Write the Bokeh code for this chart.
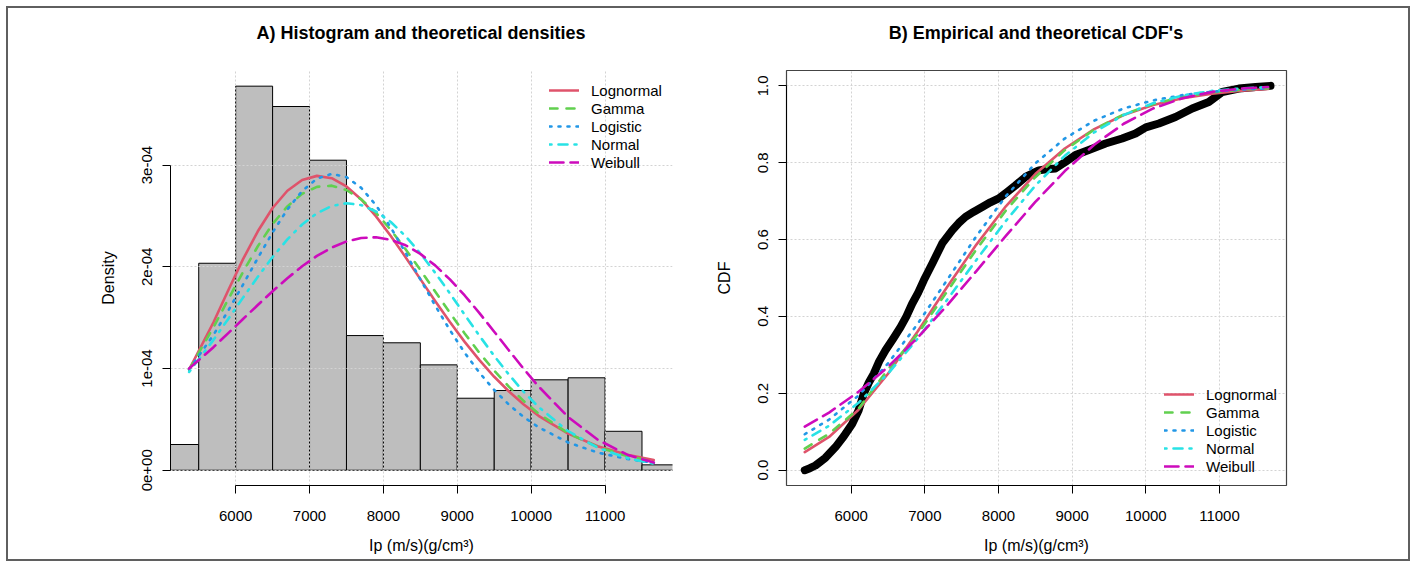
from bokeh.plotting import figure
from bokeh.layouts import row, column
from bokeh.models import Range1d, FixedTicker, Legend, LegendItem, PrintfTickFormatter, Div
from bokeh.embed import file_html
from bokeh.resources import INLINE

FONT = "Liberation Sans"

# ---------------- data ----------------
bin_left = [5000, 5500, 6000, 6500, 7000, 7500, 8000, 8500, 9000, 9500, 10000, 10500, 11000, 11500]
bin_right = [5500, 6000, 6500, 7000, 7500, 8000, 8500, 9000, 9500, 10000, 10500, 11000, 11500, 12000]
hist_density = [0.253e-4, 2.035e-4, 3.776e-4, 3.576e-4, 3.048e-4, 1.324e-4, 1.253e-4,
                1.036e-4, 0.708e-4, 0.784e-4, 0.889e-4, 0.909e-4, 0.383e-4, 0.053e-4]

dens_x = [5370, 5700, 5900, 6100, 6300, 6500, 6700, 6900, 7100, 7300, 7500, 7700, 7900, 8100,
          8300, 8500, 8700, 8900, 9100, 9300, 9500, 9700, 9900, 10100, 10500, 10900, 11300, 11660]

dens_lognormal = [0.99e-4, 1.455e-4, 1.770e-4, 2.075e-4, 2.349e-4, 2.578e-4, 2.748e-4, 2.854e-4,
                  2.894e-4, 2.871e-4, 2.790e-4, 2.662e-4, 2.496e-4, 2.303e-4, 2.095e-4, 1.879e-4,
                  1.664e-4, 1.457e-4, 1.262e-4, 1.082e-4, 0.919e-4, 0.774e-4, 0.646e-4, 0.535e-4,
                  0.360e-4, 0.236e-4, 0.152e-4, 0.100e-4]
dens_gamma = [0.99e-4, 1.406e-4, 1.681e-4, 1.950e-4, 2.202e-4, 2.422e-4, 2.594e-4, 2.718e-4,
              2.786e-4, 2.798e-4, 2.755e-4, 2.663e-4, 2.530e-4, 2.362e-4, 2.173e-4, 1.969e-4,
              1.757e-4, 1.548e-4, 1.345e-4, 1.154e-4, 0.979e-4, 0.820e-4, 0.680e-4, 0.557e-4,
              0.364e-4, 0.229e-4, 0.139e-4, 0.086e-4]
dens_logistic = [0.99e-4, 1.331e-4, 1.570e-4, 1.825e-4, 2.086e-4, 2.338e-4, 2.564e-4, 2.746e-4,
                 2.867e-4, 2.914e-4, 2.882e-4, 2.776e-4, 2.605e-4, 2.386e-4, 2.138e-4, 1.877e-4,
                 1.620e-4, 1.378e-4, 1.155e-4, 0.959e-4, 0.789e-4, 0.644e-4, 0.523e-4, 0.423e-4,
                 0.273e-4, 0.174e-4, 0.111e-4, 0.073e-4]
dens_normal = [0.966e-4, 1.282e-4, 1.488e-4, 1.697e-4, 1.902e-4, 2.096e-4, 2.270e-4, 2.416e-4,
               2.527e-4, 2.598e-4, 2.625e-4, 2.607e-4, 2.544e-4, 2.441e-4, 2.301e-4, 2.132e-4,
               1.942e-4, 1.739e-4, 1.529e-4, 1.322e-4, 1.124e-4, 0.939e-4, 0.770e-4, 0.622e-4,
               0.384e-4, 0.222e-4, 0.119e-4, 0.064e-4]
dens_weibull = [1.0e-4, 1.210e-4, 1.348e-4, 1.487e-4, 1.625e-4, 1.760e-4, 1.888e-4, 2.005e-4,
                2.107e-4, 2.189e-4, 2.250e-4, 2.284e-4, 2.290e-4, 2.266e-4, 2.212e-4, 2.127e-4,
                2.014e-4, 1.876e-4, 1.718e-4, 1.545e-4, 1.362e-4, 1.177e-4, 0.996e-4, 0.824e-4,
                0.523e-4, 0.300e-4, 0.153e-4, 0.075e-4]

cdf_x = [5370, 5700, 6100, 6500, 6900, 7300, 7700, 8100, 8500, 8900, 9300, 9700,
         10100, 10500, 10900, 11300, 11660]
cdf_lognormal = [0.0468, 0.0864, 0.1571, 0.2508, 0.3602, 0.4757, 0.5869, 0.6866, 0.7704,
                 0.8370, 0.8875, 0.9243, 0.9503, 0.9680, 0.9798, 0.9874, 0.9919]
cdf_gamma = [0.0559, 0.0949, 0.1598, 0.2622, 0.3533, 0.4643, 0.5744, 0.6755, 0.7624,
             0.8327, 0.8865, 0.9257, 0.9530, 0.9712, 0.9829, 0.9901, 0.9941]
cdf_logistic = [0.0934, 0.1315, 0.1943, 0.2777, 0.3800, 0.4942, 0.6090, 0.7128, 0.7982,
                0.8630, 0.9095, 0.9413, 0.9623, 0.9760, 0.9848, 0.9904, 0.9937]
cdf_normal = [0.0787, 0.1156, 0.1752, 0.2511, 0.3416, 0.4425, 0.5471, 0.6486, 0.7404,
              0.8180, 0.8792, 0.9242, 0.9552, 0.9751, 0.9869, 0.9936, 0.9968]
cdf_weibull = [0.1135, 0.1498, 0.2038, 0.2687, 0.3442, 0.4283, 0.5181, 0.6096, 0.6979,
               0.7783, 0.8469, 0.9014, 0.9413, 0.9680, 0.9843, 0.9930, 0.9970]

ecdf_x = [5370, 5440, 5515, 5650, 5787, 5900, 6013, 6100, 6171, 6240, 6307, 6380, 6466, 6570,
          6670, 6750, 6828, 6910, 6986, 7100, 7236, 7371, 7460, 7552, 7660, 7779, 7890, 8004,
          8120, 8231, 8367, 8460, 8548, 8650, 8773, 8909, 9045, 9226, 9453, 9679, 9860, 10000,
          10177, 10403, 10630, 10855, 11037, 11263, 11490, 11693]
ecdf_y = [0.0, 0.005, 0.012, 0.032, 0.06, 0.088, 0.12, 0.155, 0.199, 0.228, 0.251, 0.283, 0.312,
          0.342, 0.372, 0.400, 0.433, 0.462, 0.494, 0.537, 0.590, 0.624, 0.643, 0.659, 0.672,
          0.685, 0.697, 0.707, 0.724, 0.741, 0.763, 0.772, 0.780, 0.783, 0.785, 0.802, 0.820,
          0.833, 0.850, 0.863, 0.876, 0.892, 0.902, 0.919, 0.941, 0.958, 0.984, 0.993, 0.997, 1.0]

x_ticks = [6000, 7000, 8000, 9000, 10000, 11000]
dens_ticks = [0.0, 1e-4, 2e-4, 3e-4]
dens_tick_labels = ["0e+00", "1e-04", "2e-04", "3e-04"]
cdf_ticks = [0.0, 0.2, 0.4, 0.6, 0.8, 1.0]

dist_names = ["Lognormal", "Gamma", "Logistic", "Normal", "Weibull"]
dist_colors = ["#DF536B", "#61D04F", "#2297E6", "#28E2E5", "#CD0BBC"]
dist_dash = ["solid", "8 9", "2 7", "2 7 9 7", "14 7"]

title_a = "A) Histogram and theoretical densities"
title_b = "B) Empirical and theoretical CDF's"

LW = 2.6
TITLE_H = 44
FIG_H = 551 - TITLE_H


def style_axes(p, ybounds):
    for ax in (p.xaxis[0], p.yaxis[0]):
        ax.major_tick_out = 8
        ax.major_tick_in = 0
        ax.minor_tick_line_color = None
        ax.axis_line_color = "black"
        ax.major_tick_line_color = "black"
        ax.major_label_text_font = FONT
        ax.major_label_text_font_size = "15px"
        ax.major_label_text_color = "black"
        ax.axis_label_text_font = FONT
        ax.axis_label_text_font_size = "16px"
        ax.axis_label_text_font_style = "normal"
        ax.axis_label_text_color = "black"
    p.xaxis[0].ticker = FixedTicker(ticks=x_ticks)
    p.xaxis[0].bounds = (6000, 11000)
    p.xaxis[0].major_label_standoff = 17
    p.xaxis[0].axis_label_standoff = 13
    p.yaxis[0].bounds = ybounds
    p.yaxis[0].major_label_orientation = "vertical"
    p.yaxis[0].major_label_standoff = 10
    p.yaxis[0].axis_label_standoff = 23
    for g in (p.xgrid[0], p.ygrid[0]):
        g.grid_line_color = "#D3D3D3"
        g.grid_line_dash = "2 2"
        g.grid_line_width = 1


def title_div(text, center_px):
    html = ('<div style="width:%dpx;text-align:center;white-space:nowrap;'
            'font-family:\'Liberation Sans\',Arial,sans-serif;font-size:18px;font-weight:bold;'
            'color:black;line-height:50px;margin:0;padding:0;">%s</div>') % (2 * center_px, text)
    return Div(text=html, width=700, height=TITLE_H, margin=0)


def make_legend(p, renderers, loc):
    items = [LegendItem(label=n, renderers=[r]) for n, r in zip(dist_names, renderers)]
    leg = Legend(items=items, location=loc, padding=0, margin=0, spacing=0,
                 glyph_width=30, glyph_height=18, label_height=18, label_standoff=12,
                 border_line_color=None, background_fill_alpha=0,
                 label_text_font=FONT, label_text_font_size="15px", label_text_color="black")
    p.add_layout(leg)


# ---------------- A) densities ----------------
p1 = figure(width=700, height=FIG_H, x_range=Range1d(5118, 11913), y_range=Range1d(-0.15e-4, 3.93e-4),
            output_backend="svg", toolbar_location=None,
            min_border_left=162, min_border_right=36, min_border_top=62 - TITLE_H, min_border_bottom=74)
p1.outline_line_color = None
p1.quad(left=bin_left, right=bin_right, bottom=0, top=hist_density,
        fill_color="#BEBEBE", line_color="black", line_width=1, level="image")
rs1 = []
for ys, c, d in zip([dens_lognormal, dens_gamma, dens_logistic, dens_normal, dens_weibull],
                    dist_colors, dist_dash):
    rs1.append(p1.line(dens_x, ys, line_color=c, line_width=LW, line_dash=d,
                       line_cap="round", line_join="round"))
p1.xaxis.axis_label = "Ip (m/s)(g/cm³)"
p1.yaxis.axis_label = "Density"
style_axes(p1, (0, 3e-4))
p1.yaxis[0].ticker = FixedTicker(ticks=dens_ticks)
p1.yaxis[0].major_label_overrides = {t: l for t, l in zip(dens_ticks, dens_tick_labels)}
make_legend(p1, rs1, (379, 314))

# ---------------- B) CDFs ----------------
p2 = figure(width=700, height=FIG_H, x_range=Range1d(5122, 11910), y_range=Range1d(-0.04, 1.04),
            output_backend="svg", toolbar_location=None,
            min_border_left=78, min_border_right=122, min_border_top=62 - TITLE_H, min_border_bottom=74)
p2.outline_line_color = "#444444"
p2.outline_line_width = 1.2
p2.line(ecdf_x, ecdf_y, line_color="black", line_width=8, line_cap="round", line_join="round")
rs2 = []
for ys, c, d in zip([cdf_lognormal, cdf_gamma, cdf_logistic, cdf_normal, cdf_weibull],
                    dist_colors, dist_dash):
    rs2.append(p2.line(cdf_x, ys, line_color=c, line_width=LW, line_dash=d,
                       line_cap="round", line_join="round"))
p2.xaxis.axis_label = "Ip (m/s)(g/cm³)"
p2.yaxis.axis_label = "CDF"
style_axes(p2, (0, 1))
p2.yaxis[0].ticker = FixedTicker(ticks=cdf_ticks)
p2.yaxis[0].formatter = PrintfTickFormatter(format="%.1f")
make_legend(p2, rs2, (378, 10))

col1 = column(title_div(title_a, 413), p1, spacing=0)
col2 = column(title_div(title_b, 328), p2, spacing=0)
layout = row(col1, col2, styles={"border": "2px solid #5f5f5f"}, margin=(6, 0, 0, 6))

open("out.html", "w").write(file_html(layout, INLINE))
